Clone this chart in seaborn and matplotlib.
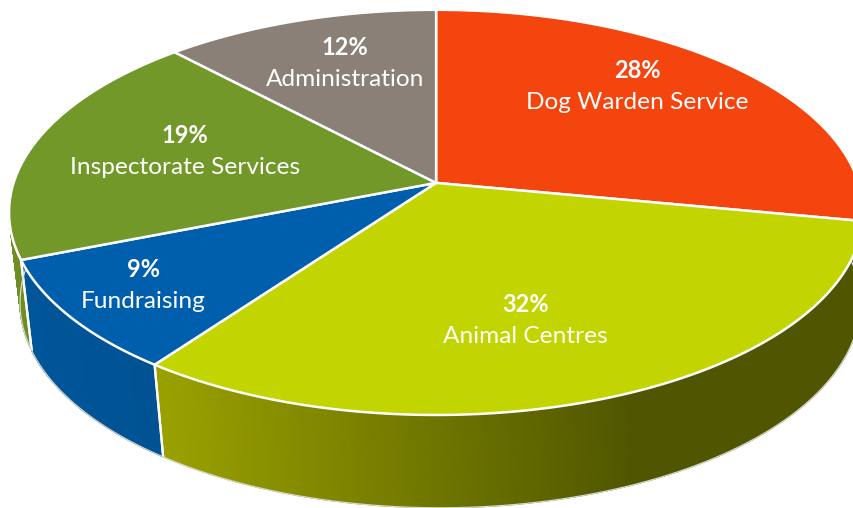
import numpy as np
import matplotlib
matplotlib.use("Agg")
import matplotlib.pyplot as plt
import seaborn as sns

categories = ["Dog Warden Service", "Animal Centres", "Fundraising", "Inspectorate Services", "Administration"]
shares = [28, 32, 9, 19, 12]
top_colors = ["#F4450F", "#C2D500", "#005FAD", "#72982A", "#8A8078"]
wall_from = ["#C93A0C", "#9AA200", "#00569A", "#6E8E22", "#6F675F"]
wall_to = ["#C93A0C", "#4F5500", "#005292", "#6E8E22", "#6F675F"]
label_xy = [(637, 85), (525, 319), (143, 284), (185, 150), (345, 62)]

sns.set_theme(style="white")
plt.rcParams["font.family"] = ["Lato", "DejaVu Sans"]

fig = plt.figure(figsize=(853.2 / 100, 508.2 / 100), dpi=100)
ax = fig.add_axes([0, 0, 1, 1])
ax.set_xlim(0, 853)
ax.set_ylim(508, 0)
ax.axis("off")

Q = 59 / 405


def project(theta, cx, y0, p, r):
    """Perspective view of a point on the pie rim; theta runs clockwise from 12 o'clock."""
    u, v = np.sin(theta), np.cos(theta)
    d = 1 + Q * v
    return cx + r * u / d, (y0 + p * v) / d


def top(theta):
    return project(theta, 436.0, 183.0, -171.54, 422.4)


def bottom(theta):
    return project(theta, 440.0, 273.0, -160.8, 415.5)


edges = 2 * np.pi * np.cumsum([0] + shares) / sum(shares)

# side walls, back pieces first
order = sorted(range(len(shares)), key=lambda i: -np.cos((edges[i] + edges[i + 1]) / 2))
for i in order:
    cmap = sns.blend_palette([wall_from[i], wall_to[i]], as_cmap=True)
    th = np.linspace(edges[i], edges[i + 1], 181)
    th = th[np.cos(th) < 0.45]
    if th.size < 2:
        continue
    xt, yt = top(th)
    xb, yb = bottom(th)
    x_lo, x_hi = xt.min(), min(xt.max(), 640)
    shade = np.clip((xt - x_lo) / max(x_hi - x_lo, 1), 0, 1)
    ax.pcolormesh(np.vstack([xt, xb]), np.vstack([yt, yb]), np.vstack([shade, shade]),
                  cmap=cmap, vmin=0, vmax=1, shading="gouraud", zorder=2)
    for t in (edges[i], edges[i + 1]):
        if np.cos(t) < 0.45:
            x0, y0 = top(t)
            x1, y1 = bottom(t)
            ax.plot([x0, x1], [y0, y1], color="white", lw=1.6, zorder=3,
                    solid_capstyle="butt")

# thin outline under the walls
th = np.linspace(np.pi * 0.45, np.pi * 1.62, 300)
ax.plot(*bottom(th), color="#D8D8D0", lw=0.9, zorder=3)

# top face
cy0 = 183.0
for i in range(len(shares)):
    th = np.linspace(edges[i], edges[i + 1], 181)
    xt, yt = top(th)
    ax.fill(np.r_[436.0, xt], np.r_[cy0, yt], facecolor=top_colors[i],
            edgecolor="white", lw=1.8, joinstyle="round", zorder=4)

# labels
for name, share, (x, y) in zip(categories, shares, label_xy):
    ax.text(x, y - 15, f"{share}%", color="white", fontsize=17, fontweight="bold",
            ha="center", va="center", zorder=5)
    ax.text(x, y + 17, name, color="white", fontsize=17.6,
            ha="center", va="center", zorder=5)

fig.savefig("out.png", dpi=100, facecolor="white")
